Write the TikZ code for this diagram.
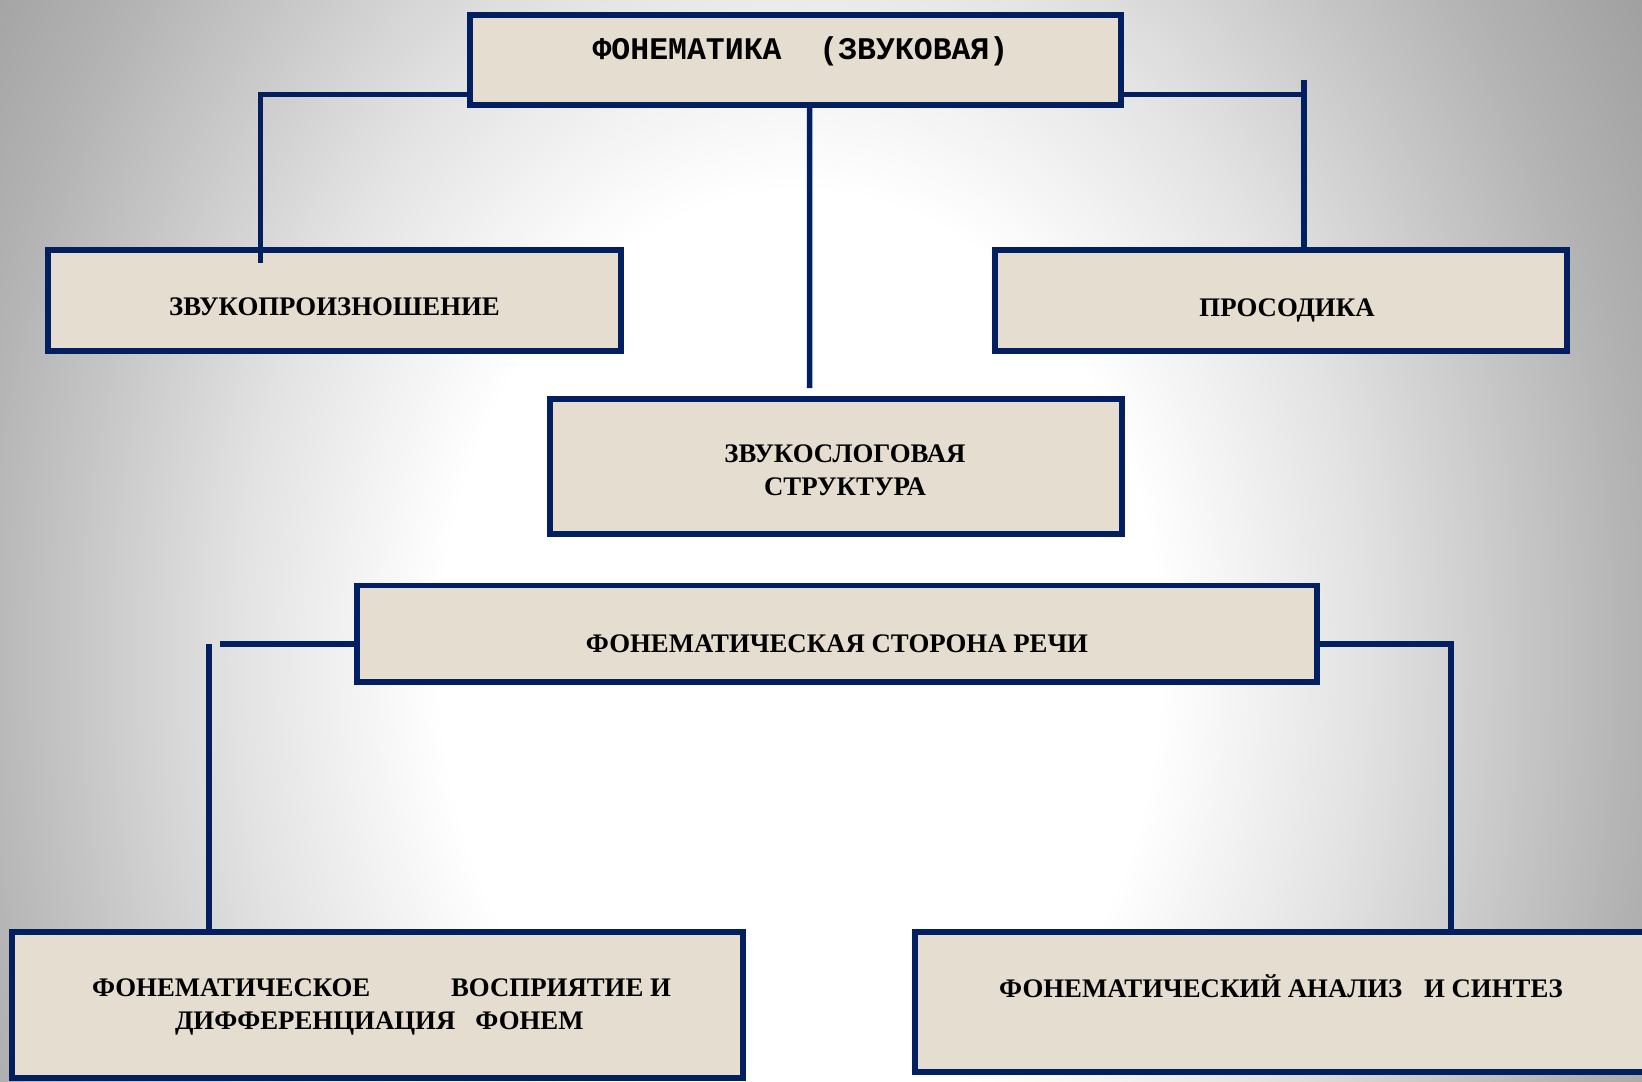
\documentclass[tikz,border=0pt]{standalone}
\usepackage{fontspec}
\setmainfont{Liberation Serif}
\newfontfamily\monofam{Liberation Mono}
\definecolor{navy}{RGB}{2,32,96}
\definecolor{paper}{RGB}{228,221,208}
% the middle 50bp x 50bp square of a shading is fitted to the path
\pgfdeclareradialshading{bgshade}{\pgfpoint{0bp}{0bp}}{color(0bp)=(white); color(9bp)=(white); color(14bp)=(black!11); color(18bp)=(black!22); color(21bp)=(black!30); color(25bp)=(black!38); color(50bp)=(black!38)}
\begin{document}
\begin{tikzpicture}[x=1bp,y=-1bp,
  box/.style={draw=navy, fill=paper, line width=5.5bp, rectangle, inner sep=0pt, outer sep=0pt},
  link/.style={draw=navy, line width=5.5bp, line join=miter},
  lbl/.style={inner sep=0pt, outer sep=0pt, text=black, font=\bfseries\fontsize{26.8bp}{33bp}\selectfont}]
\useasboundingbox (0,0) rectangle (1642,1081);
\begin{scope}
  \clip (0,0) rectangle (1642,1081);
  \shade[shading=bgshade] (800,660) ellipse [x radius=1000, y radius=1300];
\end{scope}
% boxes
\node[box, minimum width=651bp, minimum height=90bp]   (top)  at (795.5,60) {};
\node[box, minimum width=573bp, minimum height=101bp]  (zp)   at (334.5,300.5) {};
\node[box, minimum width=572bp, minimum height=101bp]  (pros) at (1281,300.5) {};
\node[box, minimum width=572bp, minimum height=135bp]  (zs)   at (836,466.5) {};
\node[box, minimum width=960bp, minimum height=96.5bp] (fsr)  at (837,633.75) {};
\node[box, minimum width=731bp, minimum height=146bp]  (fv)   at (377.5,1005) {};
\node[box, minimum width=745bp, minimum height=140bp]  (fa)   at (1287.5,1002) {};
% connectors
\draw[link] ([yshift=-34.5bp]top.west) -| ([xshift=-74bp,yshift=-13bp]zp.north);
\coordinate (prj) at ([xshift=23bp]pros.north);
\draw[link] ([yshift=-34.5bp]top.east) -| (prj);
\draw[link] (prj) -- ++(0,-170);
\draw[link] ([xshift=14bp]top.south) -- ([xshift=-26.5bp,yshift=11bp]zs.north);
\draw[link] ([yshift=-10.25bp]fsr.west) -- ++(-137,0);
\draw[link] ([xshift=-168.5bp]fv.north) -- ++(0,-288);
\draw[link] ([yshift=-10.25bp]fsr.east) -| ([xshift=163.5bp]fa.north);
% texts
\node[lbl, font=\monofam\bfseries\fontsize{31.5bp}{36bp}\selectfont, anchor=base] (top-t) at (800.5,59) {ФОНЕМАТИКА\ \ (ЗВУКОВАЯ)};
\node[lbl, anchor=base] (zp-t) at (334.5,315) {ЗВУКОПРОИЗНОШЕНИЕ};
\node[lbl, anchor=base] (pros-t) at (1287,316) {ПРОСОДИКА};
\node[lbl, align=center] (zs-t) at (845,470) {ЗВУКОСЛОГОВАЯ\\СТРУКТУРА};
\node[lbl, anchor=base] (fsr-t) at (837,652) {ФОНЕМАТИЧЕСКАЯ СТОРОНА РЕЧИ};
\node[lbl, anchor=north west, align=left] (fv-t) at (92,979) {\makebox[579bp][l]{ФОНЕМАТИЧЕСКОЕ\hfill ВОСПРИЯТИЕ И}\\\hspace*{83bp}ДИФФЕРЕНЦИАЦИЯ\hspace{20bp}ФОНЕМ};
\node[lbl, anchor=base] (fa-t) at (1281,997) {ФОНЕМАТИЧЕСКИЙ АНАЛИЗ\hspace{15bp} И СИНТЕЗ};
\end{tikzpicture}
\end{document}
